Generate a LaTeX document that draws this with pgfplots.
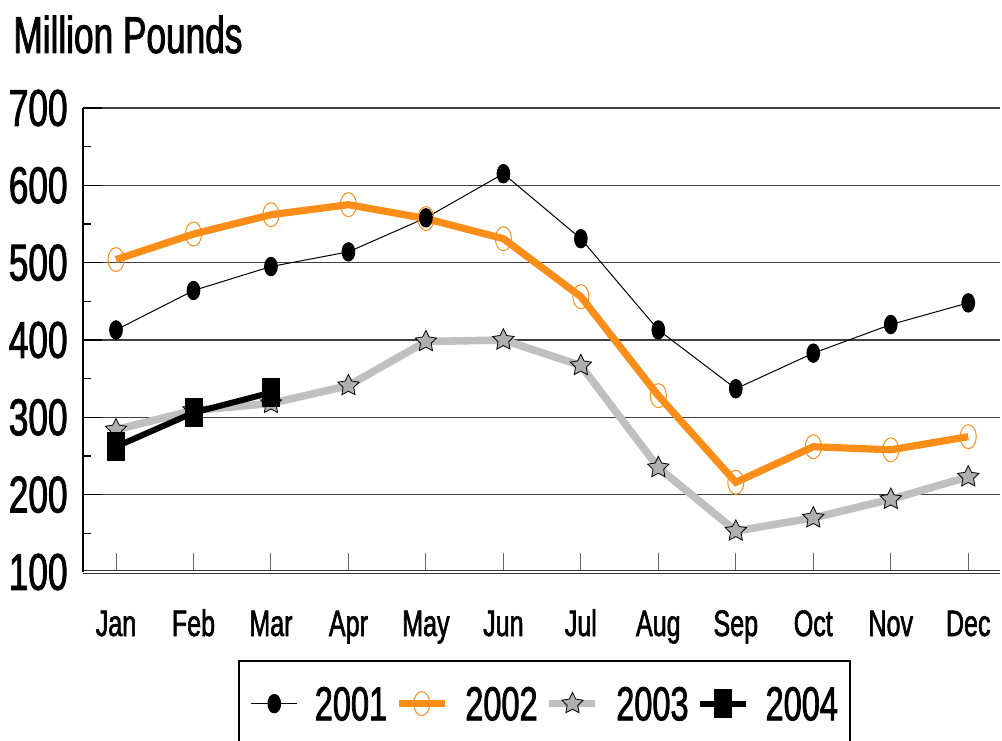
\documentclass[border=0pt]{standalone}
\usepackage{fontspec}
\setmainfont{Liberation Sans}[FakeStretch=0.68, FakeBold=1.6]
\usepackage{pgfplots}
\pgfplotsset{compat=1.18}
\definecolor{orangeL}{RGB}{250,142,25}
\definecolor{grayL}{RGB}{192,192,192}
\definecolor{starF}{RGB}{175,175,175}
\pgfdeclareplotmark{fstar}{%
  \pgfpathmoveto{\pgfpointpolar{90}{\pgfplotmarksize}}%
  \pgfpathlineto{\pgfpointpolar{126}{0.5\pgfplotmarksize}}%
  \pgfpathlineto{\pgfpointpolar{162}{\pgfplotmarksize}}%
  \pgfpathlineto{\pgfpointpolar{198}{0.5\pgfplotmarksize}}%
  \pgfpathlineto{\pgfpointpolar{234}{\pgfplotmarksize}}%
  \pgfpathlineto{\pgfpointpolar{270}{0.5\pgfplotmarksize}}%
  \pgfpathlineto{\pgfpointpolar{306}{\pgfplotmarksize}}%
  \pgfpathlineto{\pgfpointpolar{342}{0.5\pgfplotmarksize}}%
  \pgfpathlineto{\pgfpointpolar{18}{\pgfplotmarksize}}%
  \pgfpathlineto{\pgfpointpolar{54}{0.5\pgfplotmarksize}}%
  \pgfpathclose
  \pgfusepathqfillstroke}
\begin{document}
\begin{tikzpicture}
\begin{axis}[
  at={(0,0)}, anchor=south west,
  scale only axis, width=458.5bp, height=232bp,
  xmin=-0.426, xmax=11.41, ymin=100, ymax=700,
  xtick={0,...,11},
  xticklabels={Jan,Feb,Mar,Apr,May,Jun,Jul,Aug,Sep,Oct,Nov,Dec},
  ytick={100,200,...,700}, minor y tick num=1,
  ymajorgrids, grid style={black!75, line width=0.6bp},
  axis x line*=bottom, axis y line*=left,
  tick align=inside,
  major tick length=9.5bp, minor tick length=4bp,
  xtick style={draw=black!60, line width=0.5bp},
  ytick style={draw=black, line width=0.6bp},
  y axis line style={black, line width=0.8bp},
  x axis line style={black!80, line width=0.6bp, double=white, double distance=1bp},
  /pgf/number format/assume math mode=true,
  yticklabel style={font=\fontsize{26}{26}\selectfont, anchor=east, inner sep=0pt, xshift=-7.5bp},
  xticklabel style={font=\fontsize{18.5}{18.5}\selectfont, anchor=base, inner sep=0pt, yshift=-32bp},
  legend columns=4,
  legend style={at={(0.169,-0.19)}, anchor=north west, draw=black, line width=0.8bp,
    inner xsep=6bp, inner ysep=13bp, font=\fontsize{24}{24}\selectfont,
    nodes={inner sep=0pt, text depth=0pt},
    /tikz/every odd column/.append style={column sep=8.5bp},
    /tikz/every even column/.append style={column sep=4bp}},
  legend image code/.code={\draw[mark repeat=2, mark phase=2] plot coordinates {(0bp,0bp) (11.5bp,0bp) (23bp,0bp)};},
]
\addplot[black, line width=0.5bp, mark=*, mark size=4.6bp, mark options={xscale=0.69, solid, fill=black}]
coordinates {(0,413) (1,464) (2,495) (3,514) (4,558) (5,615) (6,531) (7,413) (8,337) (9,383) (10,420) (11,448)};
\addlegendentry{2001}
\addplot[orangeL, line width=3.6bp, mark=o, mark size=6bp, mark options={xscale=0.67, line width=0.5bp, draw=orangeL}]
coordinates {(0,504) (1,537) (2,562) (3,575) (4,557) (5,531) (6,456) (7,328) (8,216) (9,262) (10,258) (11,275)};
\addlegendentry{2002}
\addplot[grayL, line width=3.8bp, mark=fstar, mark size=5.6bp, mark options={fill=starF, draw=black, line width=0.4bp}]
coordinates {(0,284) (1,309) (2,318) (3,341) (4,398) (5,400) (6,367) (7,235) (8,153) (9,170) (10,194) (11,223)};
\addlegendentry{2003}
\addplot[black, line width=3bp, mark=square*, mark size=7bp, mark options={xscale=0.6, line width=0.3bp, fill=black}]
coordinates {(0,262) (1,306) (2,332)};
\addlegendentry{2004}
\end{axis}
\node[anchor=base west, font=\fontsize{26}{26}\selectfont, inner sep=0pt] at (-35bp,259.5bp) {Million Pounds};
\pgfresetboundingbox
\path[use as bounding box] (-41.5bp,-84.5bp) rectangle (459.5bp,286bp);
\end{tikzpicture}
\end{document}
